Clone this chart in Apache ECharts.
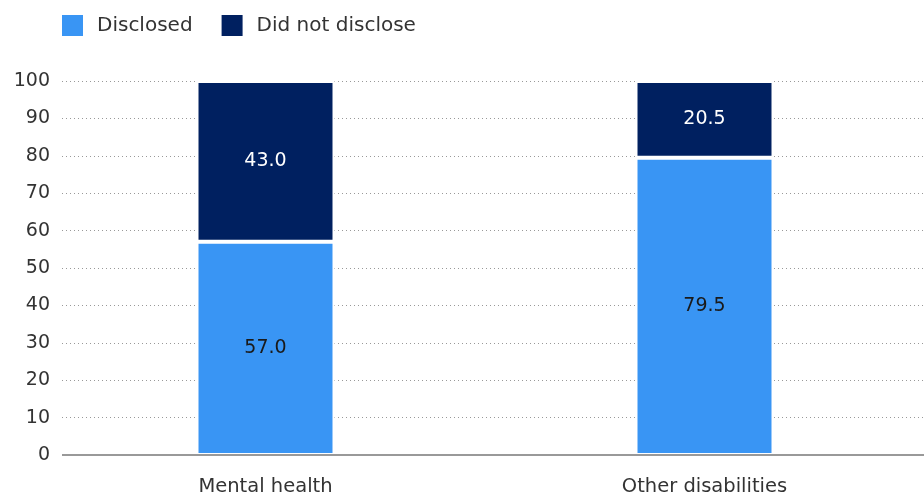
<!DOCTYPE html>
<html><head><meta charset="utf-8">
<script src="https://cdn.jsdelivr.net/npm/echarts@6/dist/echarts.min.js"></script>
<style>html,body{margin:0;padding:0;background:#fff}#c{width:924px;height:497px}</style>
</head><body><div id="c"></div>
<script>
const categories = ['Mental health', 'Other disabilities'];
const disclosed = [57.0, 79.5];
const notDisclosed = [43.0, 20.5];
const yTicks = [0, 10, 20, 30, 40, 50, 60, 70, 80, 90, 100];

const FONT = '"DejaVu Sans", sans-serif';
const chart = echarts.init(document.getElementById('c'));
chart.setOption({
  animation: false,
  textStyle: { fontFamily: FONT },
  legend: {
    left: 60, top: 13, padding: 0, itemWidth: 23, itemHeight: 23, itemGap: 27,
    icon: 'rect',
    textStyle: { fontSize: 20, color: '#333', fontFamily: FONT, padding: [0, 0, 0, 8], lineHeight: 23 },
    data: ['Disclosed', 'Did not disclose']
  },
  grid: [
    { left: 62, right: 0, top: 81, bottom: 42 },
    { left: 46, right: 0, top: 81, bottom: 42 }
  ],
  xAxis: [
    { type: 'category', gridIndex: 0, data: categories, show: false },
    { type: 'category', gridIndex: 1, data: categories,
      axisLine: { show: false }, axisTick: { show: false },
      axisLabel: { fontSize: 19.5, color: '#333', margin: 22, fontFamily: FONT } }
  ],
  yAxis: [
    { type: 'value', gridIndex: 0, min: yTicks[0], max: yTicks[yTicks.length - 1], interval: 10,
      axisLabel: { fontSize: 19, color: '#333', margin: 12, fontFamily: FONT },
      splitLine: { lineStyle: { type: [1, 3], color: '#999', width: 1 } },
      axisLine: { show: false }, axisTick: { show: false } },
    { type: 'value', gridIndex: 1, min: 0, max: 100, show: false }
  ],
  series: [
    { type: 'line', xAxisIndex: 0, yAxisIndex: 0, data: [], z: 10, markLine: {
        silent: true, symbol: 'none', label: { show: false }, z: 10,
        lineStyle: { color: '#999', width: 2, type: 'solid' },
        data: [{ yAxis: 0 }] } },
    { name: 'Disclosed', type: 'bar', stack: 's', xAxisIndex: 1, yAxisIndex: 1,
      barWidth: 138, data: disclosed,
      itemStyle: { color: '#3995f4', borderColor: '#fff', borderWidth: 2 },
      label: { show: true, position: 'inside', color: '#1a1a1a', fontSize: 19,
        formatter: p => p.value.toFixed(1) } },
    { name: 'Did not disclose', type: 'bar', stack: 's', xAxisIndex: 1, yAxisIndex: 1,
      barWidth: 138, data: notDisclosed,
      itemStyle: { color: '#002060', borderColor: '#fff', borderWidth: 2 },
      label: { show: true, position: 'inside', color: '#fff', fontSize: 19,
        formatter: p => p.value.toFixed(1) } }
  ]
});
</script></body></html>
